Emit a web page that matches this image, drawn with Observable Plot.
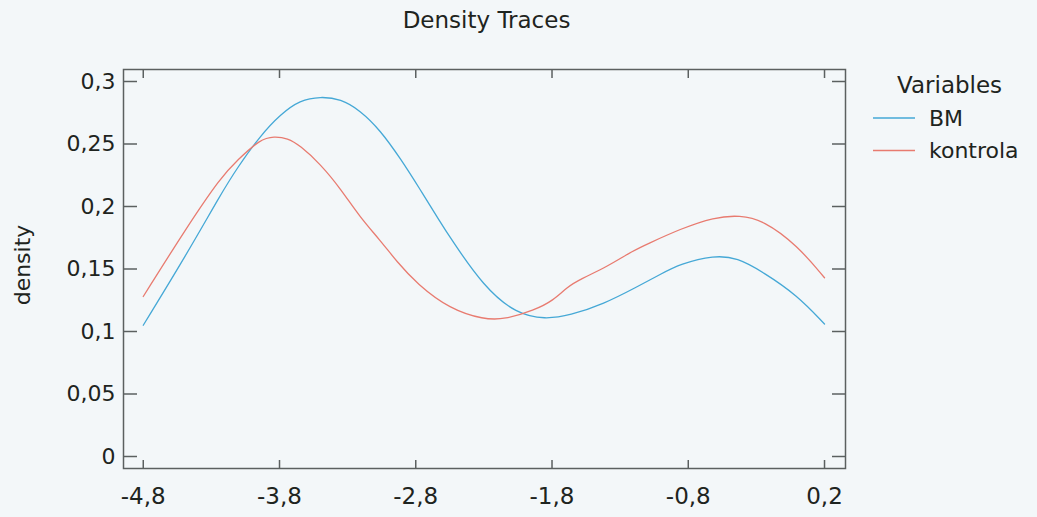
<!DOCTYPE html>
<html>
<head>
<meta charset="utf-8">
<script src="https://cdn.jsdelivr.net/npm/d3@7"></script>
<script src="https://cdn.jsdelivr.net/npm/@observablehq/plot@0.6"></script>
<style>
  html, body { margin: 0; padding: 0; background: #f3f7f9; }
  #wrap { position: relative; width: 1037px; height: 517px; overflow: hidden; font-family: "DejaVu Sans", sans-serif; color: #1e2420; }
  #chart { position: absolute; left: 0; top: 0; }
  #legend { position: absolute; left: 0; top: 0; pointer-events: none; }
</style>
</head>
<body>
<div id="wrap"><div id="chart"></div><svg id="legend" width="1037" height="517"></svg></div>
<script>
const chartTitle = "Density Traces";
const yLabel = "density";
const legendTitle = "Variables";
const seriesNames = ["BM", "kontrola"];
const seriesColors = ["#45a8d6", "#e87b70"];

const xTicks = [-4.8, -3.8, -2.8, -1.8, -0.8, 0.2];
const yTicks = [0, 0.05, 0.1, 0.15, 0.2, 0.25, 0.3];

const bmX = [-4.8, -4.48, -4.23, -4.11, -3.94, -3.79, -3.65, -3.5, -3.35, -3.21, -3.06, -2.91, -2.77, -2.62, -2.55, -2.3, -2.06, -1.85, -1.67, -1.42, -1.18, -1.0, -0.86, -0.61, -0.44, -0.25, 0.0, 0.2];
const bmY = [0.105, 0.162, 0.210, 0.231, 0.2568, 0.274, 0.285, 0.288, 0.286, 0.277, 0.261, 0.238, 0.214, 0.1875, 0.1755, 0.1355, 0.114, 0.1098, 0.1128, 0.122, 0.1355, 0.146, 0.154, 0.161, 0.159, 0.1475, 0.129, 0.106];

const koX = [-4.8, -4.48, -4.23, -4.11, -3.94, -3.84, -3.74, -3.65, -3.5, -3.35, -3.21, -3.06, -2.94, -2.79, -2.55, -2.3, -2.15, -1.93, -1.79, -1.69, -1.59, -1.4, -1.2, -1.1, -0.86, -0.61, -0.42, -0.25, 0.0, 0.2];
const koY = [0.128, 0.1835, 0.2235, 0.237, 0.254, 0.256, 0.2547, 0.2488, 0.234, 0.214, 0.1915, 0.1728, 0.156, 0.138, 0.118, 0.1096, 0.1096, 0.117, 0.1248, 0.1355, 0.142, 0.1515, 0.165, 0.170, 0.182, 0.1915, 0.193, 0.189, 0.169, 0.143];

const rows = [
  ...bmX.map((x, i) => ({series: seriesNames[0], x, y: bmY[i]})),
  ...koX.map((x, i) => ({series: seriesNames[1], x, y: koY[i]}))
];

const fmtX = d => d.toFixed(1).replace(".", ",");
const fmtY = d => String(+d.toFixed(2)).replace(".", ",");
const axisStroke = "#5b6060";
const textColor = "#1e2420";

const plot = Plot.plot({
  width: 1037,
  height: 517,
  marginLeft: 123,
  marginRight: 192,
  marginTop: 69,
  marginBottom: 49,
  style: { background: "transparent", fontFamily: "DejaVu Sans, sans-serif", fontSize: "22px", color: textColor, overflow: "visible" },
  x: { domain: [-4.945, 0.354], label: null },
  y: { domain: [-0.0096, 0.3096], label: null },
  color: { domain: seriesNames, range: seriesColors },
  marks: [
    Plot.line(rows, { x: "x", y: "y", stroke: "series", z: "series", curve: "basis", strokeWidth: 1.3 }),
    Plot.frame({ stroke: axisStroke, strokeWidth: 1.5 }),
    Plot.axisX({ ticks: xTicks, anchor: "bottom", tickSize: -8, fill: "none", stroke: axisStroke, strokeWidth: 1.5, label: null }),
    Plot.axisX({ ticks: xTicks, anchor: "top", tickSize: -8, fill: "none", stroke: axisStroke, strokeWidth: 1.5, label: null }),
    Plot.axisY({ ticks: yTicks, anchor: "left", tickSize: -14, fill: "none", stroke: axisStroke, strokeWidth: 1.5, label: null }),
    Plot.axisY({ ticks: yTicks, anchor: "right", tickSize: -14, fill: "none", stroke: axisStroke, strokeWidth: 1.5, label: null }),
    Plot.axisX({ ticks: xTicks, anchor: "bottom", tickSize: 0, tickPadding: 19, tickFormat: fmtX, fill: textColor, fontSize: 23, label: null }),
    Plot.axisY({ ticks: yTicks, anchor: "left", tickSize: 0, tickPadding: 8, tickFormat: fmtY, fill: textColor, fontSize: 22, label: null }),
    Plot.text([chartTitle], { text: d => d, frameAnchor: "top", textAnchor: "middle", lineAnchor: "bottom", dy: -42, dx: 2, fontSize: 23, fill: textColor }),
    Plot.text([yLabel], { text: d => d, frameAnchor: "left", textAnchor: "middle", lineAnchor: "middle", rotate: -90, dx: -101, dy: -4, fontSize: 22, fill: textColor })
  ]
});
document.getElementById("chart").appendChild(plot);

// Legend
const lg = d3.select("#legend").attr("font-family", "DejaVu Sans, sans-serif").attr("fill", textColor);
lg.append("text").attr("x", 897).attr("y", 93).attr("font-size", 23).text(legendTitle);
seriesNames.forEach((name, i) => {
  const cy = 118 + i * 32.5;
  lg.append("line").attr("x1", 873).attr("x2", 915).attr("y1", cy).attr("y2", cy)
    .attr("stroke", seriesColors[i]).attr("stroke-width", 1.3);
  lg.append("text").attr("x", 929).attr("y", cy + 7.5).attr("font-size", 22).text(name);
});
</script>
</body>
</html>
